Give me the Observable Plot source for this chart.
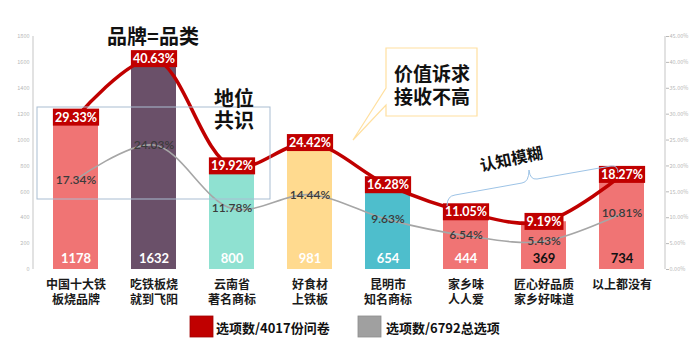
<!DOCTYPE html>
<html><head><meta charset="utf-8">
<script src="https://cdn.jsdelivr.net/npm/d3@7"></script>
<script src="https://cdn.jsdelivr.net/npm/@observablehq/plot@0.6"></script>
<style>
body{margin:0;background:#fff}
#chart{width:700px;height:353px}
</style>
</head><body><div id="chart"></div>
<script>
// ---- data ----
const categories = ["中国十大铁\n板烧品牌","吃铁板烧\n就到飞阳","云南省\n著名商标","好食材\n上铁板","昆明市\n知名商标","家乡味\n人人爱","匠心好品质\n家乡好味道","以上都没有"];
const counts = [1178, 1632, 800, 981, 654, 444, 369, 734];
const pctOfQuestionnaires = [29.33, 40.63, 19.92, 24.42, 16.28, 11.05, 9.19, 18.27];
const pctOfOptions = [17.34, 24.03, 11.78, 14.44, 9.63, 6.54, 5.43, 10.81];
const barColors = ["#F07474","#6A5069","#8FE1D1","#FFDA8F","#4EBECC","#F07474","#F07474","#F07474"];
const countLabelColors = ["#ffffff","#ffffff","#ffffff","#ffffff","#ffffff","#ffffff","#111111","#111111"];
const leftTicks = [0,200,400,600,800,1000,1200,1400,1600,1800];
const rightTicks = [0,5,10,15,20,25,30,35,40,45];
const legendLabels = ["选项数/4017份问卷","选项数/6792总选项"];
const legendColors = ["#C00000","#A0A0A0"];
const countMax = 1800, pctMax = 45;
const k = countMax / pctMax; // counts per percent on the shared axis

const rows = categories.map((c, i) => ({
  c, n: counts[i], p1: pctOfQuestionnaires[i], p2: pctOfOptions[i],
  color: barColors[i], lc: countLabelColors[i]
}));

const FONT = "'Noto Sans CJK SC', sans-serif";
const NUMFONT = "Lato, 'Noto Sans', sans-serif";

const plot = Plot.plot({
  width: 700,
  height: 353,
  marginTop: 36,
  marginBottom: 84,
  marginLeft: 33,
  marginRight: 35,
  style: {fontFamily: FONT, background: "#fff"},
  x: {domain: categories, paddingInner: 0.417, paddingOuter: 0.215, label: null},
  y: {domain: [0, pctMax], label: null},
  color: {type: "identity"},
  marks: [
    Plot.axisY({anchor: "left", ticks: leftTicks.map(v => v / k), tickFormat: d => String(Math.round(d * k)),
      tickSize: 0, tickPadding: 4, fontSize: 5.5, color: "#b8b8b8", label: null}),
    Plot.axisY({anchor: "right", ticks: rightTicks, tickFormat: d => d.toFixed(2) + "%",
      tickSize: 3, tickPadding: 1, fontSize: 5.5, color: "#b8b8b8", label: null}),
    Plot.axisX({tickSize: 0, tickPadding: 9, fontSize: 12, fontWeight: "bold", lineHeight: 1.25,
      fill: "#1a1a1a", label: null, fontFamily: FONT}),
    Plot.barY(rows, {x: "c", y: d => d.n / k, fill: "color"}),
    Plot.line(rows, {x: "c", y: "p2", stroke: "#A6A6A6", strokeWidth: 1.6, curve: "catmull-rom"}),
    Plot.text(rows, {x: "c", y: "p2", text: d => d.p2.toFixed(2) + "%", fill: "#3b3b3b",
      fontSize: 12, fontWeight: 600, fontFamily: NUMFONT}),
    Plot.line(rows, {x: "c", y: "p1", stroke: "#C00000", strokeWidth: 3.5, curve: "catmull-rom"}),
    Plot.text(rows, {x: "c", y: "p1", text: d => d.p1.toFixed(2) + "%", fill: "#ffffff",
      fontSize: 12.5, fontWeight: "bold", fontFamily: NUMFONT}),
    Plot.text(rows, {x: "c", y: 0, dy: -11, text: d => String(d.n), fill: "lc",
      fontSize: 13, fontWeight: "bold", fontFamily: NUMFONT})
  ]
});

document.getElementById("chart").appendChild(plot);

const svgNS = "http://www.w3.org/2000/svg";
const svg = d3.select(plot);
const xs = plot.scale("x"), ys = plot.scale("y");
const yTop = ys.apply(pctMax), yBot = ys.apply(0);
const xL = xs.range[0], xR = xs.range[1];

// axis lines
svg.append("line").attr("x1", xL).attr("x2", xL).attr("y1", yTop).attr("y2", yBot)
  .attr("stroke", "#d9d9d9").attr("stroke-width", 1.5);
svg.append("line").attr("x1", xR).attr("x2", xR).attr("y1", yTop).attr("y2", yBot)
  .attr("stroke", "#d9d9d9").attr("stroke-width", 1.5);

// red label backgrounds
const redSet = new Set(pctOfQuestionnaires.map(v => v.toFixed(2) + "%"));
const redTexts = Array.from(plot.querySelectorAll("text")).filter(t => redSet.has(t.textContent));
redTexts.forEach(t => {
  const b = t.getBBox();
  const r = document.createElementNS(svgNS, "rect");
  r.setAttribute("x", b.x - 2);
  r.setAttribute("y", b.y + b.height / 2 - 8.5);
  r.setAttribute("width", b.width + 4);
  r.setAttribute("height", 17);
  r.setAttribute("fill", "#C00000");
  r.setAttribute("stroke", "none");
  const tr = t.getAttribute("transform");
  if (tr) r.setAttribute("transform", tr);
  t.parentNode.insertBefore(r, t);
});

// 地位共识 box
svg.append("rect").attr("x", 37).attr("y", 107).attr("width", 233).attr("height", 92)
  .attr("fill", "none").attr("stroke", "#A9BDD2").attr("stroke-width", 1);
// callout box
svg.append("path").attr("d", "M386,48 H477 V116 H386 V105 L353,140 L386,88 Z")
  .attr("fill", "#fff").attr("stroke", "#FFE0A0").attr("stroke-width", 1.2);
// brace
svg.append("path")
  .attr("d", "M447,206 Q447,196 455,195 L522,183 Q529,182 529,170 Q530,180 537,179 L611,166 Q618,165 618,173")
  .attr("fill", "none").attr("stroke", "#9DC3E6").attr("stroke-width", 1);

// annotation texts
const ann = svg.append("g").attr("font-family", FONT).attr("font-weight", "bold")
  .attr("fill", "#111").attr("text-anchor", "middle");
const addText = (x, y, size, s, rot) => ann.append("text")
  .attr("transform", `translate(${x},${y})` + (rot ? ` rotate(${rot})` : ""))
  .attr("dominant-baseline", "central").attr("font-size", size).text(s);
addText(153, 35, 20, "品牌=品类");
addText(234, 97, 20, "地位");
addText(234, 119, 20, "共识");
addText(432, 72, 19, "价值诉求");
addText(432, 95, 19, "接收不高");
addText(511, 158, 16, "认知模糊", -12);

// legend
const lg = svg.append("g").attr("font-family", FONT).attr("font-weight", "bold")
  .attr("font-size", 13).attr("text-anchor", "start");
[[190, 216], [358, 386]].forEach(([rx, tx], i) => {
  lg.append("rect").attr("x", rx).attr("y", 316).attr("width", 23).attr("height", 21)
    .attr("fill", legendColors[i]).attr("stroke", i === 0 ? "#a00000" : "#8c8c8c").attr("stroke-width", 0.8);
  lg.append("text").attr("x", tx).attr("y", 327).attr("dominant-baseline", "central")
    .attr("fill", "#111").text(legendLabels[i]);
});
</script>
</body></html>
